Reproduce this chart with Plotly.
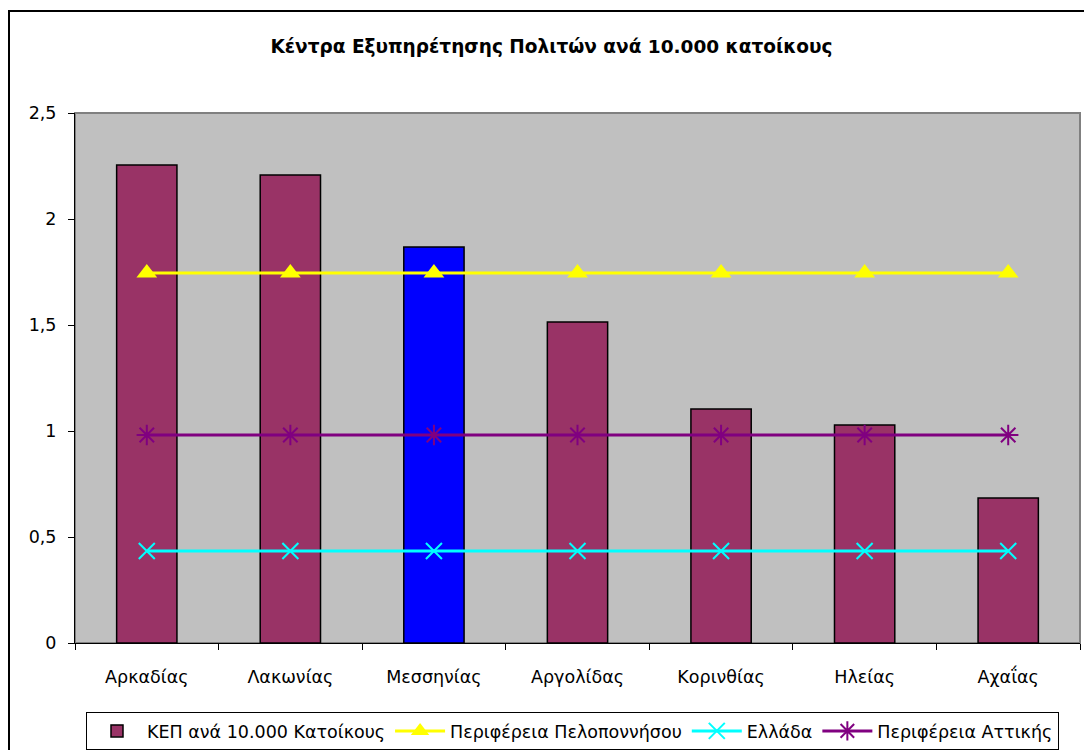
import plotly.graph_objects as go

categories = ["Αρκαδίας", "Λακωνίας", "Μεσσηνίας", "Αργολίδας", "Κορινθίας", "Ηλείας", "Αχαΐας"]
kep_values = [2.255, 2.208, 1.868, 1.514, 1.104, 1.028, 0.684]
peloponnisos = [1.745] * 7
ellada = [0.434] * 7
attiki = [0.981] * 7
bar_colors = ["#993366", "#993366", "#0000FF", "#993366", "#993366", "#993366", "#993366"]

FONT = "DejaVu Sans, sans-serif"
FS = 17.5

fig = go.Figure()
fig.add_trace(go.Bar(
    x=categories, y=kep_values, name="ΚΕΠ ανά 10.000 Κατοίκους",
    marker=dict(color=bar_colors, line=dict(color="black", width=1.5)),
    width=0.42,
))
fig.add_trace(go.Scatter(
    x=categories, y=peloponnisos, name="Περιφέρεια Πελοποννήσου", mode="lines+markers",
    line=dict(color="#FFFF00", width=3),
    marker=dict(symbol="triangle-up", size=18, color="#FFFF00"),
))
fig.add_trace(go.Scatter(
    x=categories, y=ellada, name="Ελλάδα", mode="lines+markers",
    line=dict(color="#00FFFF", width=3),
    marker=dict(symbol="x-thin-open", size=16, color="#00FFFF", line=dict(color="#00FFFF", width=2)),
))
fig.add_trace(go.Scatter(
    x=categories, y=attiki, name="Περιφέρεια Αττικής", mode="lines+markers",
    line=dict(color="#800080", width=3),
    marker=dict(symbol="asterisk-open", size=17, color="#800080", line=dict(color="#800080", width=2)),
))

W, H = 1084, 750
L, R, T, B = 75, 4, 113, 107
pw = W - L - R
ph = H - T - B

def px_x(p):
    return (p - L) / pw

def px_y(p):
    return (H - B - p) / ph

fig.update_layout(
    width=W, height=H,
    margin=dict(l=L, r=R, t=T, b=B, autoexpand=False),
    paper_bgcolor="white",
    plot_bgcolor="#C0C0C0",
    separators=",.",
    font=dict(family=FONT, size=FS, color="black"),
    title=dict(text="<b>Κέντρα Εξυπηρέτησης Πολιτών ανά 10.000 κατοίκους</b>",
               x=551.5 / W, xref="container", xanchor="center",
               y=1 - 47 / H, yref="container", yanchor="middle",
               font=dict(family=FONT, size=18.5, color="black")),
    showlegend=True,
    legend=dict(orientation="h", x=px_x(86), y=px_y(712), xanchor="left", yanchor="top",
                bordercolor="black", borderwidth=1, bgcolor="white",
                font=dict(family=FONT, size=FS), itemwidth=50, tracegroupgap=0),
)
fig.update_xaxes(
    showgrid=False, showline=True, linecolor="black", linewidth=1,
    ticks="outside", ticklen=6, tickcolor="black", tickson="boundaries",
    tickfont=dict(family=FONT, size=FS), ticklabelstandoff=18,
)
fig.update_yaxes(
    range=[0, 2.5], dtick=0.5, tick0=0, showgrid=False, zeroline=False,
    showline=True, linecolor="black", linewidth=1,
    ticks="outside", ticklen=6, tickcolor="black",
    tickfont=dict(family=FONT, size=FS), ticklabelstandoff=8,
)
# plot area frame (gray) and outer chart frame (black)
fig.add_shape(type="rect", xref="paper", yref="paper", x0=0, x1=1, y0=0, y1=1,
              line=dict(color="#808080", width=2), layer="below")
fig.add_shape(type="rect", xref="paper", yref="paper",
              x0=px_x(9), x1=px_x(1095), y0=px_y(760), y1=px_y(11),
              line=dict(color="black", width=2))

fig.write_html("out.html", config={"displayModeBar": False},
               post_script="document.body.style.margin='0';document.body.style.overflow='hidden';")
